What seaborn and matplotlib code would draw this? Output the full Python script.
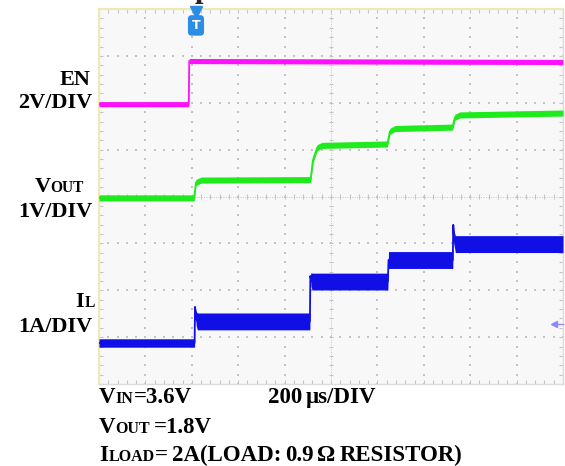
"""Scope capture: EN / VOUT / IL load step, redrawn with seaborn + matplotlib."""

import numpy as np
import matplotlib
matplotlib.use("Agg")
import matplotlib.pyplot as plt
import seaborn as sns

W, H = 565, 466

# traces: breakpoints (time in us), value, noise half-band
EN_T = [0, 387, 389, 2000]
EN_V = [0.0, 0.0, 1.84, 1.80]
EN_N = [0.11, 0.11, 0.11, 0.11]

VOUT_T = [0, 410, 418, 440, 912, 922, 940, 961, 1243, 1254, 1276, 1524, 1534, 1556, 2000]
VOUT_V = [0.0, 0.0, 0.33, 0.38, 0.39, 0.80, 1.07, 1.12, 1.15, 1.42, 1.48, 1.51, 1.72, 1.77, 1.81]
VOUT_N = [0.065] * 15

IL_T = [0, 412, 414, 419, 424, 909, 911, 914, 919, 1245, 1248, 1525, 1527, 1530, 1536, 2000]
IL_A = [0.0, 0.0, 0.77, 0.52, 0.46, 0.46, 1.43, 1.35, 1.31, 1.31, 1.77, 1.77, 2.52, 2.25, 2.11, 2.11]
IL_N = [0.09, 0.09, 0.02, 0.15, 0.18, 0.18, 0.02, 0.15, 0.18, 0.18, 0.18, 0.18, 0.02, 0.15, 0.18, 0.18]

# channel setup: units per division, ground position (div)
EN_SCALE, EN_GND = 2.0, 5.97
VOUT_SCALE, VOUT_GND = 1.0, 3.97
IL_SCALE, IL_GND = 1.0, 0.875

TIME_PER_DIV = 200  # us
N_XDIV, N_YDIV = 10, 8
TRIG_T = 418
TRIG_LEVEL_DIV = 1.28

C_EN = "#ff10ff"
C_VOUT = "#1eea1e"
C_IL = "#1010e6"
C_GRID = "#c4c4c4"
C_TRIG = "#2b8de4"

sns.set_theme(style="white")
plt.rcParams["font.family"] = ["Liberation Serif", "DejaVu Serif"]

fig = plt.figure(figsize=(W / 100, H / 100), dpi=100)
fig.patch.set_facecolor("white")
ax = fig.add_axes([99 / W, (H - 384) / H, 464 / W, 375 / H])
ax.set_facecolor("#f8f8f8")
ax.set_xlim(0, TIME_PER_DIV * N_XDIV)
ax.set_ylim(0, N_YDIV)
ax.set_xticks([])
ax.set_yticks([])

# graticule
xs = np.arange(0, N_XDIV * 5 + 1) * TIME_PER_DIV / 5
ys = np.arange(0, N_YDIV * 5 + 1) / 5
for j in range(1, N_YDIV):
    if j != N_YDIV // 2:
        ax.scatter(xs, np.full(len(xs), j), s=1.0, marker="s", color=C_GRID, lw=0, zorder=1)
for i in range(1, N_XDIV):
    if i != N_XDIV // 2:
        ax.scatter(np.full(len(ys), i * TIME_PER_DIV), ys, s=1.0, marker="s", color=C_GRID, lw=0, zorder=1)
xc, yc = TIME_PER_DIV * N_XDIV / 2, N_YDIV / 2
ax.axvline(xc, color=C_GRID, lw=0.7, ls=(0, (1, 1.5)), zorder=1)
ax.axhline(yc, color=C_GRID, lw=0.7, ls=(0, (1, 1.5)), zorder=1)
ax.vlines(xs, yc - 0.05, yc + 0.05, color=C_GRID, lw=0.8, zorder=1)
ax.hlines(ys, xc - 10, xc + 10, color=C_GRID, lw=0.8, zorder=1)
ax.vlines(xs, 0, 0.08, color=C_GRID, lw=0.8, zorder=1)
ax.vlines(xs, N_YDIV - 0.08, N_YDIV, color=C_GRID, lw=0.8, zorder=1)
ax.hlines(ys, 0, 16, color=C_GRID, lw=0.8, zorder=1)
ax.hlines(ys, 2000 - 16, 2000, color=C_GRID, lw=0.8, zorder=1)

for side in ["left", "top"]:
    ax.spines[side].set_color("#eeeab4")
    ax.spines[side].set_linewidth(1.6)
for side in ["right", "bottom"]:
    ax.spines[side].set_color("#dcdcdc")
    ax.spines[side].set_linewidth(1.0)


def draw_trace(t, v, n, scale, gnd, color):
    t = np.asarray(t, float)
    mid = gnd + np.asarray(v, float) / scale
    half = np.asarray(n, float) / scale
    ax.fill_between(t, mid - half, mid + half, color=color, lw=0, zorder=3)
    sns.lineplot(x=t, y=mid, ax=ax, color=color, lw=1.3,
                 estimator=None, sort=False, zorder=4)


draw_trace(EN_T, EN_V, EN_N, EN_SCALE, EN_GND, C_EN)
draw_trace(VOUT_T, VOUT_V, VOUT_N, VOUT_SCALE, VOUT_GND, C_VOUT)
draw_trace(IL_T, IL_A, IL_N, IL_SCALE, IL_GND, C_IL)
ax.set_xlabel("")
ax.set_ylabel("")

# trigger marker and trigger level arrow
ax.plot(TRIG_T, 7.93, marker="v", ms=8, color=C_TRIG, clip_on=False, zorder=6)
ax.text(TRIG_T, 7.65, "T", ha="center", va="center", color="white", fontsize=9,
        fontweight="bold", family="DejaVu Sans", zorder=6,
        bbox=dict(boxstyle="round,pad=0.3", fc=C_TRIG, ec="none"))
ax.plot([1957, 2000], [TRIG_LEVEL_DIV] * 2, color="#8a8aff", lw=1, clip_on=False, zorder=6)
ax.plot(1962, TRIG_LEVEL_DIV, marker="<", ms=5, color="#8a8aff", clip_on=False, zorder=6)

# text
renderer = fig.canvas.get_renderer()


def rich_text(x, y, parts, size, align="left"):
    # parts: (text, relative size, gap before in px); x, y in px from top-left, y = baseline
    objs, widths = [], []
    for s, k, gap in parts:
        o = fig.text(0, 0, s, fontsize=size * k, fontweight="bold", va="baseline", ha="left",
                     color="black")
        objs.append(o)
        widths.append(o.get_window_extent(renderer).width + gap)
    x0 = x - sum(widths) if align == "right" else x
    for o, (s, k, gap), w in zip(objs, parts, widths):
        o.set_position(((x0 + gap) / W, 1 - y / H))
        x0 += w


SC = 0.7  # small caps
rich_text(90, 85, [("EN", 1, 0)], 16, "right")
rich_text(92, 108, [("2V/DIV", 1, 0)], 16, "right")
rich_text(84, 192, [("V", 1, 0), ("OUT", SC, 0)], 16, "right")
rich_text(92, 217, [("1V/DIV", 1, 0)], 16, "right")
rich_text(95, 307, [("I", 1, 0), ("L", SC, 1)], 16, "right")
rich_text(92, 332, [("1A/DIV", 1, 0)], 16, "right")

rich_text(99, 403, [("V", 1, 0), ("IN", SC, 0), ("=3.6V", 1, 1)], 16.5)
rich_text(268, 403, [("200", 1, 0), ("μs/DIV", 1, 3)], 16.5)
rich_text(99, 433, [("V", 1, 0), ("OUT", SC, 0), ("=1.8V", 1, 4)], 16.5)
rich_text(99, 461, [("I", 1, 0), ("LOAD", SC, 1), ("=", 1, 0), ("2A(LOAD:", 1, 4),
                    ("0.9", 1, 4), ("Ω", 1, 3), ("RESISTOR)", 1, 4)], 16.5)

# cut-off title descender at the very top
fig.text(195 / W, 1 + 3 / H, "p", fontsize=22, fontweight="bold", va="baseline", ha="left")

fig.savefig("out.png", dpi=100)
